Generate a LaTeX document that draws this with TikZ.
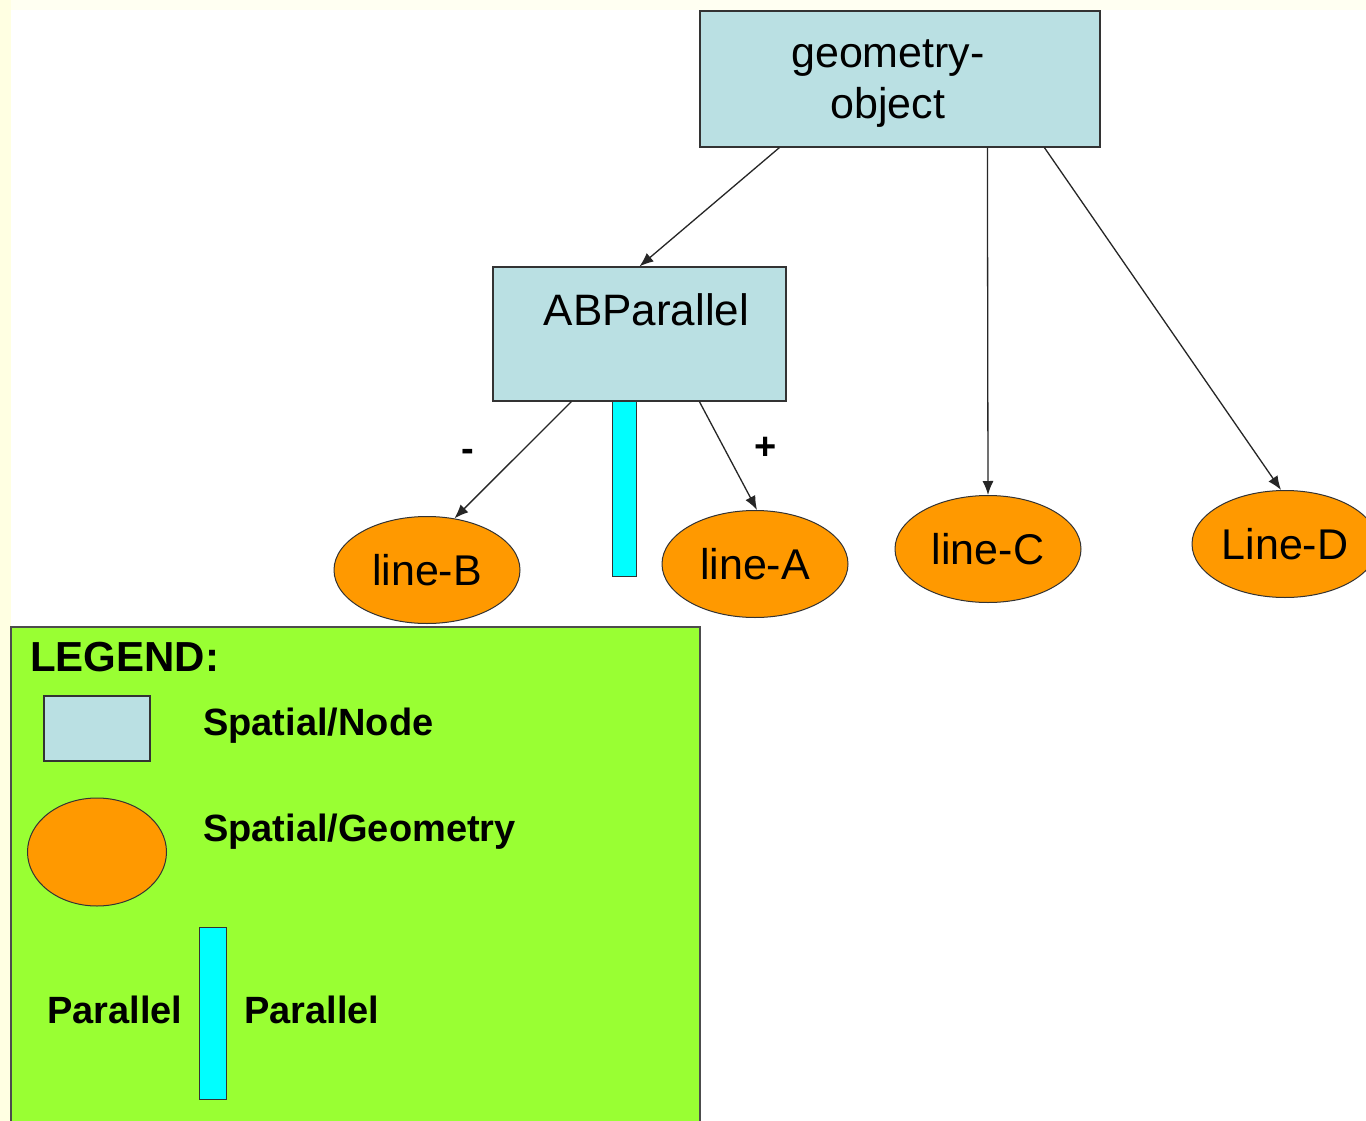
\documentclass[tikz,border=0pt]{standalone}
\usepackage{fontspec}
\setmainfont{Liberation Sans}
\usetikzlibrary{shapes.geometric,arrows.meta}
\definecolor{nodeblue}{HTML}{BAE0E3}
\definecolor{geoorange}{HTML}{FF9900}
\definecolor{parcyan}{HTML}{00FFFF}
\definecolor{legendgreen}{HTML}{99FF33}
\definecolor{edgeyellow}{HTML}{FFFFE2}
\definecolor{topyellow}{HTML}{FFFFF2}
\tikzset{
	spnode/.style={draw=black!80, line width=1.2pt, fill=nodeblue, rectangle, inner sep=0pt},
	spgeom/.style={draw=black!80, line width=1pt, fill=geoorange, ellipse, inner sep=0pt,
		minimum width=186pt, minimum height=107pt, font=\fontsize{43}{51}\selectfont},
	parbar/.style={draw=black!80, line width=1pt, fill=parcyan, rectangle, inner sep=0pt},
	link/.style={-{Latex[length=14pt,width=11pt]}, line width=1.3pt, black!85},
	legtext/.style={anchor=west, inner sep=0pt, font=\bfseries\fontsize{38}{45}\selectfont}
}
\begin{document}
\begin{tikzpicture}[x=1pt,y=-1pt]
		\useasboundingbox (0,0) rectangle (1366,1121);
		\fill[white] (0,0) rectangle (1366,1121);
		\fill[topyellow] (0,0) rectangle (1366,10);
		\fill[edgeyellow] (0,0) rectangle (11,1121);
		% tree
		\node[spnode, minimum width=400pt, minimum height=136pt, align=center,
			font=\fontsize{43}{51}\selectfont] (geo) at (900,79)
			{\rule{0pt}{36pt}\hspace*{-24pt}geometry-\\\hspace*{-24pt}object};
		\node[spnode, minimum width=293pt, minimum height=134pt,
			font=\fontsize{44}{51}\selectfont] (abp) at (639.5,334)
			{\raisebox{9pt}[0pt][0pt]{\hspace*{14pt}ABParallel}};
		\node[parbar, minimum width=24pt, minimum height=175pt, anchor=north] (bar) at (624,401) {};
		\node[spgeom] (lineB) at (427,570) {line-B};
		\node[spgeom] (lineA) at (755,564) {line-A};
		\node[spgeom] (lineC) at (988,549) {line-C};
		\node[spgeom] (lineD) at (1285,544) {Line-D};
		\draw[link] ([xshift=80pt]geo.south west) -- (abp.north);
		\draw[link] ([xshift=288pt]geo.south west) -- (lineC.north);
		\draw[link] ([xshift=345pt]geo.south west) -- ([xshift=-4pt]lineD.north);
		\draw[link] ([xshift=79pt]abp.south west) -- (lineB.62);
		\draw[link] ([xshift=207pt]abp.south west) -- ([xshift=2pt]lineA.north);
		\node[font=\bfseries\fontsize{38}{44}\selectfont] (minus) at (468,455) {-};
		\node[font=\bfseries\fontsize{38}{44}\selectfont] (plus) at (766,448) {+};
		% legend
		\draw[draw=black!70, line width=1.2pt, fill=legendgreen] (11,627) rectangle (700,1135);
		\node[anchor=west, inner sep=0pt, font=\bfseries\fontsize{42}{50}\selectfont] (legtitle) at (30,657) {LEGEND:};
		\node[spnode, minimum width=106pt, minimum height=65pt] (keynode) at (97,728.5) {};
		\node[legtext] (keynodetext) at (203,726) {Spatial/Node};
		\node[spgeom, minimum width=139pt, minimum height=108pt] (keygeom) at (97,852) {};
		\node[legtext] (keygeomtext) at (203,832) {Spatial/Geometry};
		\node[parbar, minimum width=27pt, minimum height=172pt] (keybar) at (212.5,1013) {};
		\node[legtext] (keyleft) at (47,1010) {Parallel};
		\node[legtext] (keyright) at (244,1010) {Parallel};
	\end{tikzpicture}
\end{document}
